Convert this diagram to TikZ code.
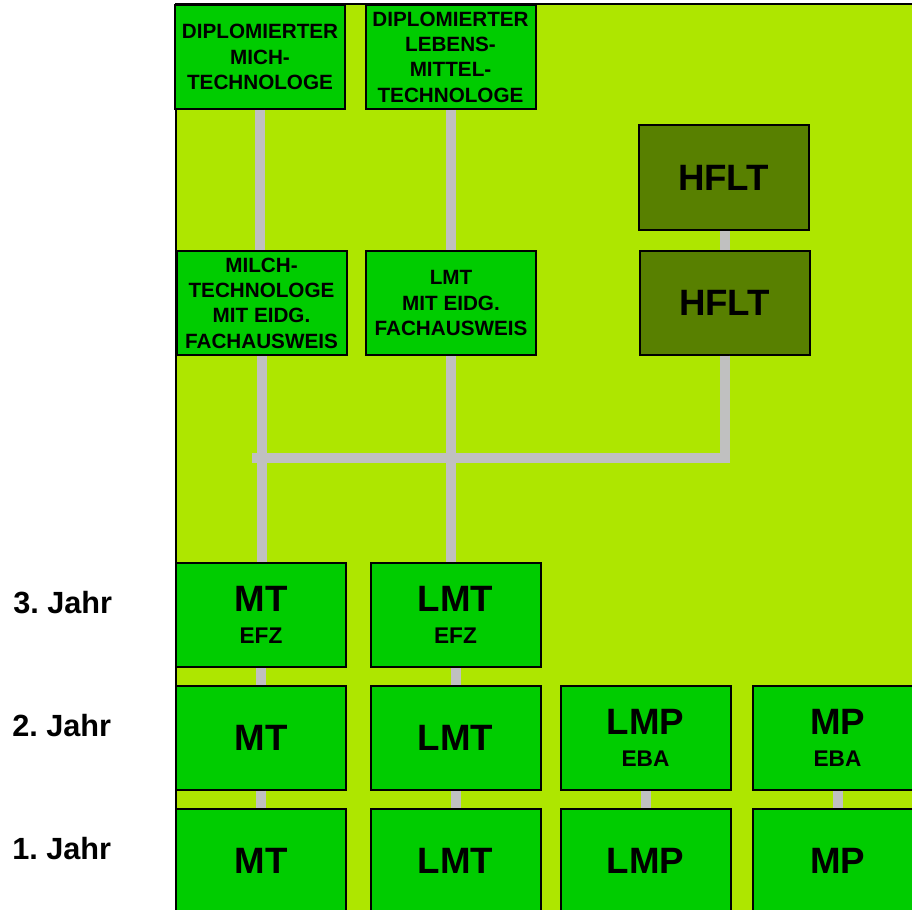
\documentclass[tikz,border=0pt]{standalone}
\usepackage{fontspec}
\setmainfont{Liberation Sans}
\definecolor{limebg}{RGB}{174,230,0}
\definecolor{boxgreen}{RGB}{0,204,0}
\definecolor{hfltgreen}{RGB}{88,128,0}
\definecolor{linkgray}{RGB}{192,192,192}
\newcommand{\lowtxt}[1]{{\fontsize{17}{20}\selectfont #1}}
\begin{document}
\begin{tikzpicture}[x=0.75pt,y=-0.75pt,
  box/.style={draw=black,line width=1.5pt,fill=boxgreen,minimum width=127.5pt,minimum height=78pt,inner sep=1pt,align=center},
  big/.style={box,font=\bfseries\fontsize{27.5}{30}\selectfont},
  small/.style={box,font=\bfseries\fontsize{15.5}{19}\selectfont},
  hflt/.style={big,fill=hfltgreen},
  link/.style={draw=linkgray,line width=7.5pt},
  year/.style={anchor=base west,inner sep=0pt,font=\bfseries\fontsize{23}{27}\selectfont}]
  \useasboundingbox (0,0) rectangle (912,909);
  \clip (0,0) rectangle (912,909);
  \draw[line width=1.5pt,fill=limebg] (176,4) rectangle (940,940);
  \node[year] (y3) at (13,613) {3.\ Jahr};
  \node[year] (y2) at (12,736) {2.\ Jahr};
  \node[year] (y1) at (12,859) {1.\ Jahr};
  \node[small] (dmt) at (260,57) {DIPLOMIERTER\\MICH-\\TECHNOLOGE};
  \node[small] (dlmt) at (450.5,57) {DIPLOMIERTER\\LEBENS-\\MITTEL-\\TECHNOLOGE};
  \node[small] (mtfa) at (261.5,303) {MILCH-\\TECHNOLOGE\\MIT EIDG.\\FACHAUSWEIS};
  \node[small] (lmtfa) at (451,303) {LMT\\MIT EIDG.\\FACHAUSWEIS};
  \node[hflt] (hf1) at (723.5,177.5) {HFLT};
  \node[hflt] (hf2) at (724.5,302.5) {HFLT};
  \node[big] (mt3) at (261,615) {MT\\[-6pt]\lowtxt{EFZ}};
  \node[big] (lmt3) at (455.5,615) {LMT\\[-6pt]\lowtxt{EFZ}};
  \node[big] (mt2) at (261,737.5) {MT};
  \node[big] (lmt2) at (455.5,737.5) {LMT};
  \node[big] (lmp2) at (645.5,737.5) {LMP\\[-6pt]\lowtxt{EBA}};
  \node[big] (mp2) at (837.5,737.5) {MP\\[-6pt]\lowtxt{EBA}};
  \node[big] (mt1) at (261,860.5) {MT};
  \node[big] (lmt1) at (455.5,860.5) {LMT};
  \node[big] (lmp1) at (645.5,860.5) {LMP};
  \node[big] (mp1) at (837.5,860.5) {MP};
  \coordinate (jl) at (252,458);
  \draw[link] (dmt.south) -- (dmt.south |- mtfa.north);
  \draw[link] (dlmt.south) -- (dlmt.south |- lmtfa.north);
  \draw[link] (mtfa.south) -- (mtfa.south |- mt3.north);
  \draw[link] (lmtfa.south) -- (lmtfa.south |- lmt3.north);
  \draw[link] (hf2.north) -- (hf2.north |- hf1.south);
  \draw[link] (hf2.south) |- (jl);
  \draw[link] (mt3) -- (mt2); \draw[link] (lmt3) -- (lmt2);
  \draw[link] (mt2) -- (mt1); \draw[link] (lmt2) -- (lmt1);
  \draw[link] (lmp2) -- (lmp1); \draw[link] (mp2) -- (mp1);
\end{tikzpicture}
\end{document}
